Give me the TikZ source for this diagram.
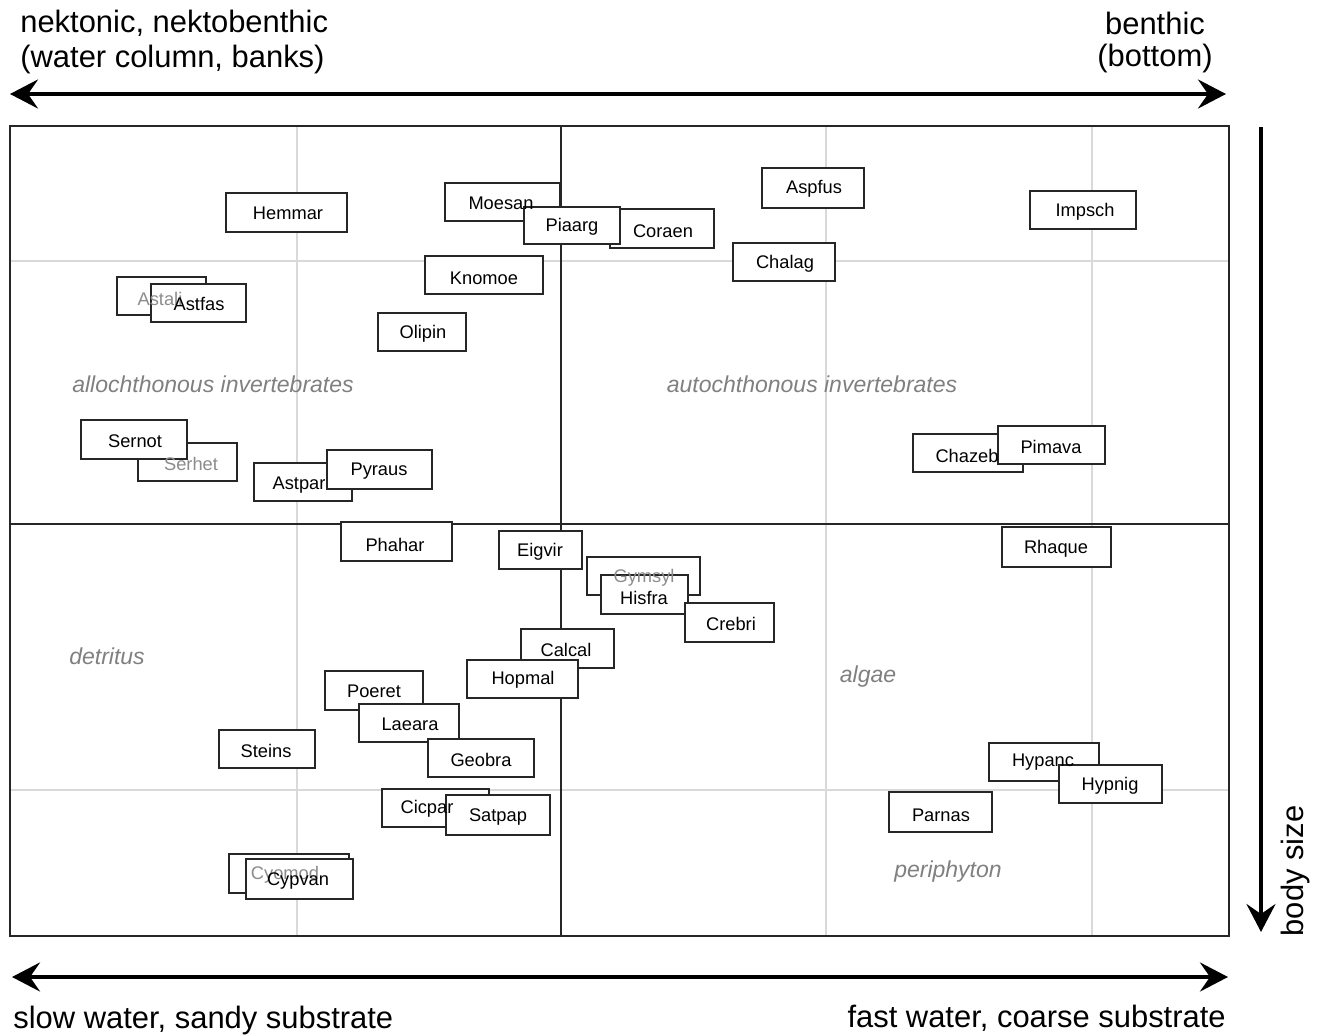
\documentclass[tikz,border=0pt]{standalone}
\usepackage{fontspec}
\setmainfont{Liberation Sans}
\usetikzlibrary{arrows.meta,fit}
\tikzset{
  bxs/.style={draw=black!85, line width=1.5pt, fill=white, inner sep=0pt},
  lbl/.style={font=\fontsize{10.4}{12}\selectfont, text=black, inner sep=0pt, yshift=-0.04cm},
  glbl/.style={lbl, text=black!45},
  cat/.style={font=\fontsize{13.1}{15}\selectfont\itshape, text=black!50, inner sep=0pt},
  axl/.style={font=\fontsize{17.6}{21}\selectfont, inner sep=0pt},
  grid/.style={draw=black!15, line width=1.2pt},
  ax/.style={line width=2.2pt, {Stealth[length=0.56cm,width=0.58cm,inset=0.2cm]}-{Stealth[length=0.56cm,width=0.58cm,inset=0.2cm]}},
  ax1/.style={line width=2.2pt, -{Stealth[length=0.56cm,width=0.58cm,inset=0.2cm]}}
}
\newcommand{\mybox}[5]{\node[bxs, fit={(#2,#3) (#4,#5)}] (#1) {};}
\begin{document}
\begin{tikzpicture}[x=0.02cm,y=-0.02cm]
\useasboundingbox (0,0) rectangle (1320,1035);
% grid
\draw[grid] (297,126) -- (297,936);
\draw[grid] (826,126) -- (826,936);
\draw[grid] (1092,126) -- (1092,936);
\draw[grid] (10,261) -- (1229,261);
\draw[grid] (10,790) -- (1229,790);
% frame
\node[draw=black!85, line width=1.3pt, fit={(10,126) (1229,936)}, inner sep=0pt] (frame) {};
\coordinate (vt) at (561,126); \coordinate (vb) at (561,936);
\coordinate (hl) at (10,524); \coordinate (hr) at (1229,524);
\draw[black!85, line width=1.3pt] (vt) -- (vb);
\draw[black!85, line width=1.3pt] (hl) -- (hr);
% category labels
\node[cat] (c1) at (213,384) {allochthonous invertebrates};
\node[cat] (c2) at (812,384) {autochthonous invertebrates};
\node[cat] (c3) at (107,656) {detritus};
\node[cat] (c4) at (868,677) {algae};
\node[cat] (c5) at (948,872) {periphyton};
% boxes
\mybox{Hemmar}{226}{193}{347}{232}
\mybox{Moesan}{445}{183}{560}{221}
\mybox{Coraen}{610}{209}{714}{248}
\mybox{Piaarg}{524}{207}{620}{244}
\mybox{Aspfus}{762}{168}{864}{208}
\mybox{Impsch}{1030}{191}{1136}{229}
\mybox{Chalag}{733}{243}{835}{281}
\mybox{Knomoe}{425}{256}{543}{294}
\mybox{Astali}{117}{277}{206}{315}
\mybox{Astfas}{151}{284}{246}{322}
\mybox{Olipin}{378}{313}{466}{351}
\mybox{Serhet}{138}{443}{237}{481}
\mybox{Sernot}{81}{420}{187}{459}
\mybox{Astpar}{254}{463}{352}{501}
\mybox{Pyraus}{327}{450}{432}{489}
\mybox{Chazeb}{913}{434}{1023}{472}
\mybox{Pimava}{998}{426}{1105}{464}
\mybox{Phahar}{341}{522}{452}{561}
\mybox{Eigvir}{499}{531}{582}{569}
\mybox{Rhaque}{1002}{527}{1111}{567}
\mybox{Gymsyl}{587}{557}{700}{595}
\mybox{Hisfra}{601}{575}{688}{614}
\mybox{Crebri}{685}{603}{774}{642}
\mybox{Calcal}{521}{629}{614}{668}
\mybox{Hopmal}{467}{660}{578}{698}
\mybox{Poeret}{325}{671}{423}{710}
\mybox{Laeara}{359}{704}{459}{742}
\mybox{Steins}{219}{730}{315}{768}
\mybox{Geobra}{428}{739}{534}{777}
\mybox{Hypanc}{989}{743}{1099}{781}
\mybox{Hypnig}{1059}{765}{1162}{803}
\mybox{Parnas}{889}{792}{992}{832}
\mybox{Cicpar}{382}{789}{489}{827}
\mybox{Satpap}{446}{795}{550}{835}
\mybox{Cyomod}{229}{854}{349}{893}
\mybox{Cypvan}{246}{859}{353}{899}
% texts
\node[lbl] (tHemmar) at (288,211) {Hemmar};
\node[lbl] (tMoesan) at (501,201) {Moesan};
\node[lbl] (tCoraen) at (663,229) {Coraen};
\node[lbl] (tPiaarg) at (572,225) {Piaarg};
\node[lbl] (tAspfus) at (814,187) {Aspfus};
\node[lbl] (tImpsch) at (1085,210) {Impsch};
\node[lbl] (tChalag) at (785,262) {Chalag};
\node[lbl] (tKnomoe) at (484,276) {Knomoe};
\node[glbl] (tAstali) at (160,297) {Astali};
\node[lbl] (tAstfas) at (199,302) {Astfas};
\node[lbl] (tOlipin) at (423,332) {Olipin};
\node[glbl] (tSerhet) at (191,462) {Serhet};
\node[lbl] (tSernot) at (135,439) {Sernot};
\node[lbl] (tAstpar) at (299,483) {Astpar};
\node[lbl] (tPyraus) at (379,469) {Pyraus};
\node[lbl] (tChazeb) at (967,454) {Chazeb};
\node[lbl] (tPimava) at (1051,445) {Pimava};
\node[lbl] (tPhahar) at (395,543) {Phahar};
\node[lbl] (tEigvir) at (540,550) {Eigvir};
\node[lbl] (tRhaque) at (1056,547) {Rhaque};
\node[glbl] (tGymsyl) at (644,576) {Gymsyl};
\node[lbl] (tHisfra) at (644,596) {Hisfra};
\node[lbl] (tCrebri) at (731,622) {Crebri};
\node[lbl] (tCalcal) at (566,648) {Calcal};
\node[lbl] (tHopmal) at (523,678) {Hopmal};
\node[lbl] (tPoeret) at (374,689) {Poeret};
\node[lbl] (tLaeara) at (410,722) {Laeara};
\node[lbl] (tSteins) at (266,749) {Steins};
\node[lbl] (tGeobra) at (481,758) {Geobra};
\node[lbl] (tHypanc) at (1043,760) {Hypanc};
\node[lbl] (tHypnig) at (1110,784) {Hypnig};
\node[lbl] (tParnas) at (941,813) {Parnas};
\node[lbl] (tCicpar) at (427,807) {Cicpar};
\node[lbl] (tSatpap) at (498,815) {Satpap};
\node[glbl] (tCyomod) at (285,873) {Cyomod};
\node[lbl] (tCypvan) at (298,879) {Cypvan};
% axes
\coordinate (tl) at (10,94); \coordinate (tr) at (1226,94);
\draw[ax] (tl) -- (tr);
\coordinate (bl) at (12,977); \coordinate (br) at (1228,977);
\draw[ax] (bl) -- (br);
\coordinate (rt) at (1261,127); \coordinate (rb) at (1261,932);
\draw[ax1] (rt) -- (rb);
% axis labels
\node[axl, anchor=west] (a1) at (20,23) {nektonic, nektobenthic};
\node[axl, anchor=west] (a2) at (20,59) {(water column, banks)};
\node[axl] (a3) at (1155,23) {benthic};
\node[axl] (a4) at (1155,58) {(bottom)};
\node[axl, anchor=west] (a5) at (13,1020) {slow water, sandy substrate};
\node[axl, anchor=east] (a6) at (1226,1018) {fast water, coarse substrate};
\node[axl, rotate=90] (a7) at (1295,871) {body size};
\end{tikzpicture}
\end{document}
